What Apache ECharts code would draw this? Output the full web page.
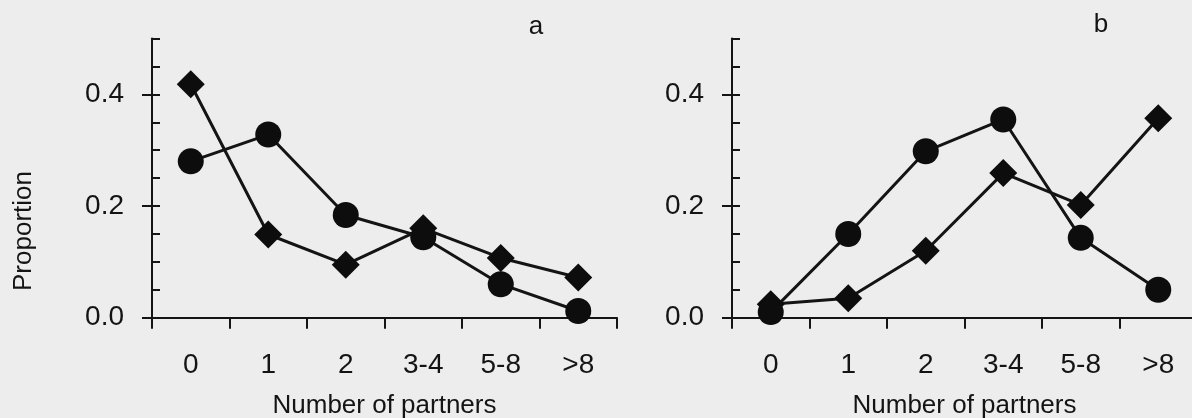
<!DOCTYPE html>
<html>
<head>
<meta charset="utf-8">
<script src="https://cdn.jsdelivr.net/npm/echarts@6/dist/echarts.min.js"></script>
<style>
  html, body { margin: 0; padding: 0; background: #ededed; }
  #chart { width: 1192px; height: 418px; }
</style>
</head>
<body>
<div id="chart"></div>
<script>
  // partner categories, shared by both panels
  var categories = ['0', '1', '2', '3-4', '5-8', '>8'];
  // panel a
  var aCircle = [0.280, 0.328, 0.184, 0.144, 0.060, 0.012];
  var aDiamond = [0.418, 0.149, 0.095, 0.160, 0.107, 0.072];
  // panel b
  var bCircle = [0.010, 0.150, 0.298, 0.355, 0.143, 0.050];
  var bDiamond = [0.024, 0.035, 0.120, 0.259, 0.202, 0.357];
  // y ticks
  var yLabels = [0, 0.2, 0.4];
  var yMinor = [0, 0.05, 0.1, 0.15, 0.2, 0.25, 0.3, 0.35, 0.4, 0.45, 0.5];

  var ink = '#141414';
  var font = 'Liberation Sans, Arial, sans-serif';

  function xAxisOf (gridIndex) {
    return {
      type: 'category',
      gridIndex: gridIndex,
      data: categories,
      boundaryGap: true,
      name: 'Number of partners',
      nameLocation: 'middle',
      nameGap: 75,
      nameTextStyle: { color: ink, fontSize: 26, fontFamily: font },
      axisLine: { lineStyle: { color: ink, width: 2 } },
      axisTick: { show: true, interval: 0, length: 11, lineStyle: { color: ink, width: 2 } },
      axisLabel: { interval: 0, margin: 34, color: ink, fontSize: 28, fontFamily: font },
      splitLine: { show: false }
    }
  }

  function yAxesOf (gridIndex) {
    return [
      {
        type: 'value',
        gridIndex: gridIndex,
        min: 0,
        max: 0.5,
        axisLine: { show: true, lineStyle: { color: ink, width: 2 } },
        axisTick: { show: true, length: 10, customValues: yLabels, lineStyle: { color: ink, width: 2 } },
        axisLabel: {
          customValues: yLabels,
          margin: 28,
          color: ink,
          fontSize: 28,
          fontFamily: font,
          formatter: function (v) { return v.toFixed(1) }
        },
        splitLine: { show: false }
      },
      {
        type: 'value',
        gridIndex: gridIndex,
        min: 0,
        max: 0.5,
        position: 'left',
        axisLine: { show: false },
        axisTick: { show: true, inside: true, length: 8, customValues: yMinor, lineStyle: { color: ink, width: 2 } },
        axisLabel: { show: false },
        splitLine: { show: false }
      }
    ]
  }

  function lineOf (data, symbol, size, xi, yi) {
    return {
      type: 'line',
      data: data,
      xAxisIndex: xi,
      yAxisIndex: yi,
      symbol: symbol,
      symbolSize: size,
      showAllSymbol: true,
      lineStyle: { color: ink, width: 3 },
      itemStyle: { color: '#0d0d0d' },
      animation: false
    }
  }

  var chart = echarts.init(document.getElementById('chart'));
  var option = {
    backgroundColor: '#ededed',
    grid: [
      { left: 152, top: 38.5, width: 465, height: 279.2, outerBoundsMode: 'none' },
      { left: 732, top: 38.5, width: 465, height: 279.2, outerBoundsMode: 'none' }
    ],
    xAxis: [xAxisOf(0), xAxisOf(1)],
    yAxis: yAxesOf(0).concat(yAxesOf(1)),
    graphic: [
      { type: 'text', x: 536, y: 27, style: { text: 'a', font: '26px ' + font, fill: ink, textAlign: 'center', textVerticalAlign: 'middle' } },
      { type: 'text', x: 1101, y: 25, style: { text: 'b', font: '26px ' + font, fill: ink, textAlign: 'center', textVerticalAlign: 'middle' } },
      { type: 'text', x: 24, y: 231, rotation: Math.PI / 2, style: { text: 'Proportion', font: '26px ' + font, fill: ink, textAlign: 'center', textVerticalAlign: 'middle' } }
    ],
    series: [
      lineOf(aDiamond, 'diamond', 28, 0, 0),
      lineOf(aCircle, 'circle', 26, 0, 0),
      lineOf(bDiamond, 'diamond', 28, 1, 2),
      lineOf(bCircle, 'circle', 26, 1, 2)
    ]
  };
  chart.setOption(option);
</script>
</body>
</html>
